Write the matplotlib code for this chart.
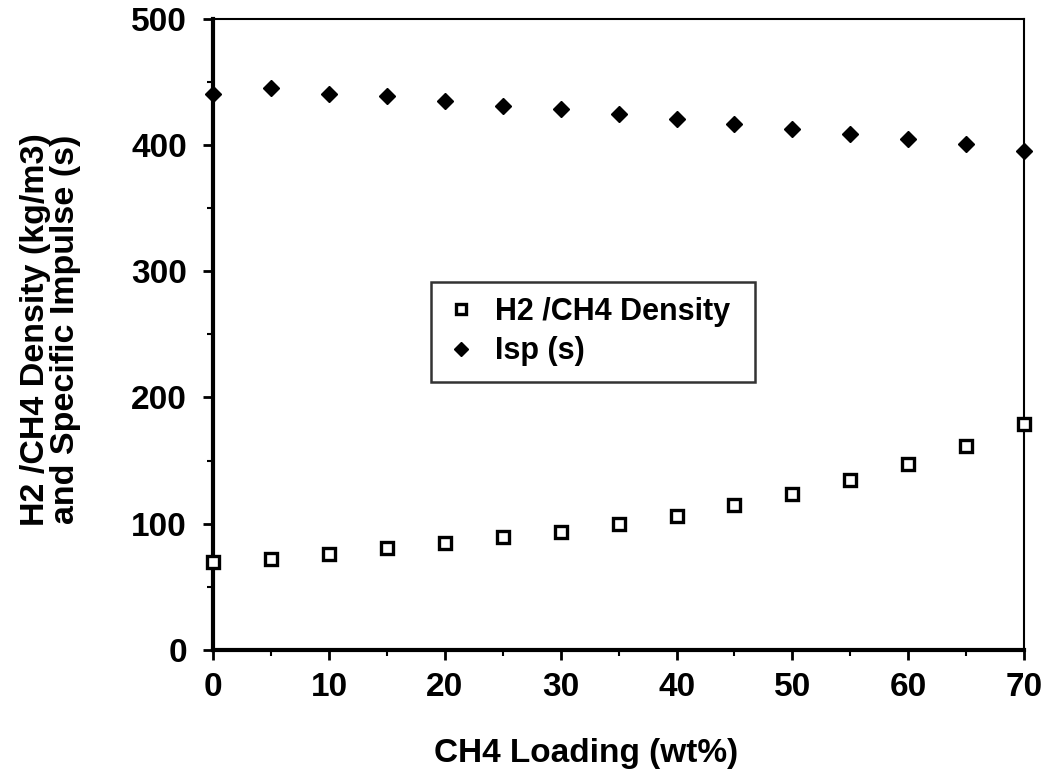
import matplotlib.pyplot as plt
from matplotlib.ticker import MultipleLocator

plt.rcParams['font.family'] = ['Liberation Sans', 'DejaVu Sans']
plt.rcParams['font.weight'] = 'bold'

loading = [0, 5, 10, 15, 20, 25, 30, 35, 40, 45, 50, 55, 60, 65, 70]
density = [69.5, 71.9, 76.3, 80.6, 84.8, 89.5, 93.5, 100.1, 106.4, 114.9,
           123.4, 134.2, 147.1, 161.6, 178.8]
isp = [440.6, 444.9, 440.6, 438.7, 434.7, 430.5, 428.3, 424.7, 420.5, 416.8,
       412.6, 408.9, 405.0, 400.4, 394.9]

fig = plt.figure(figsize=(10.45, 7.82), dpi=100)
ax = fig.add_axes([0.204, 0.169, 0.776, 0.807])

ax.plot(loading, density, 's', ms=8, mfc='white', mec='black', mew=2.4,
        linestyle='none', label='H2 /CH4 Density', clip_on=False, zorder=3)
ax.plot(loading, isp, 'D', ms=8.5, color='black',
        linestyle='none', label='Isp (s)', clip_on=False, zorder=3)

ax.set_xlim(0, 70)
ax.set_ylim(0, 500)
ax.xaxis.set_major_locator(MultipleLocator(10))
ax.xaxis.set_minor_locator(MultipleLocator(5))
ax.yaxis.set_major_locator(MultipleLocator(100))
ax.yaxis.set_minor_locator(MultipleLocator(50))
ax.tick_params(which='major', direction='out', length=7, width=2,
               labelsize=24)
ax.tick_params(axis='x', which='major', pad=9)
ax.tick_params(axis='y', which='major', pad=12)
ax.tick_params(which='minor', direction='out', length=4, width=1.5)

for side in ['left', 'bottom']:
    ax.spines[side].set_linewidth(3)
for side in ['top', 'right']:
    ax.spines[side].set_linewidth(1.5)

ax.set_xlabel('CH4 Loading (wt%)', fontsize=24, fontweight='bold')
ax.xaxis.set_label_coords(0.46, -0.14)
ax.set_ylabel('H2 /CH4 Density (kg/m3)\nand Specific Impulse (s)',
              fontsize=24.5, fontweight='bold', linespacing=0.95)
ax.yaxis.set_label_coords(-0.163, 0.508)

leg = ax.legend(loc='lower left', bbox_to_anchor=(0.268, 0.425, 0.40, 0.163),
                mode='expand', fontsize=22, frameon=True, fancybox=False,
                borderpad=0.5, handletextpad=0.6, labelspacing=0.3,
                handlelength=1.0, borderaxespad=0)
leg.get_frame().set_edgecolor('black')
leg.get_frame().set_linewidth(1.8)
for h in leg.legend_handles:
    h.set_markersize(7)

fig.savefig('out.png', dpi=100)
